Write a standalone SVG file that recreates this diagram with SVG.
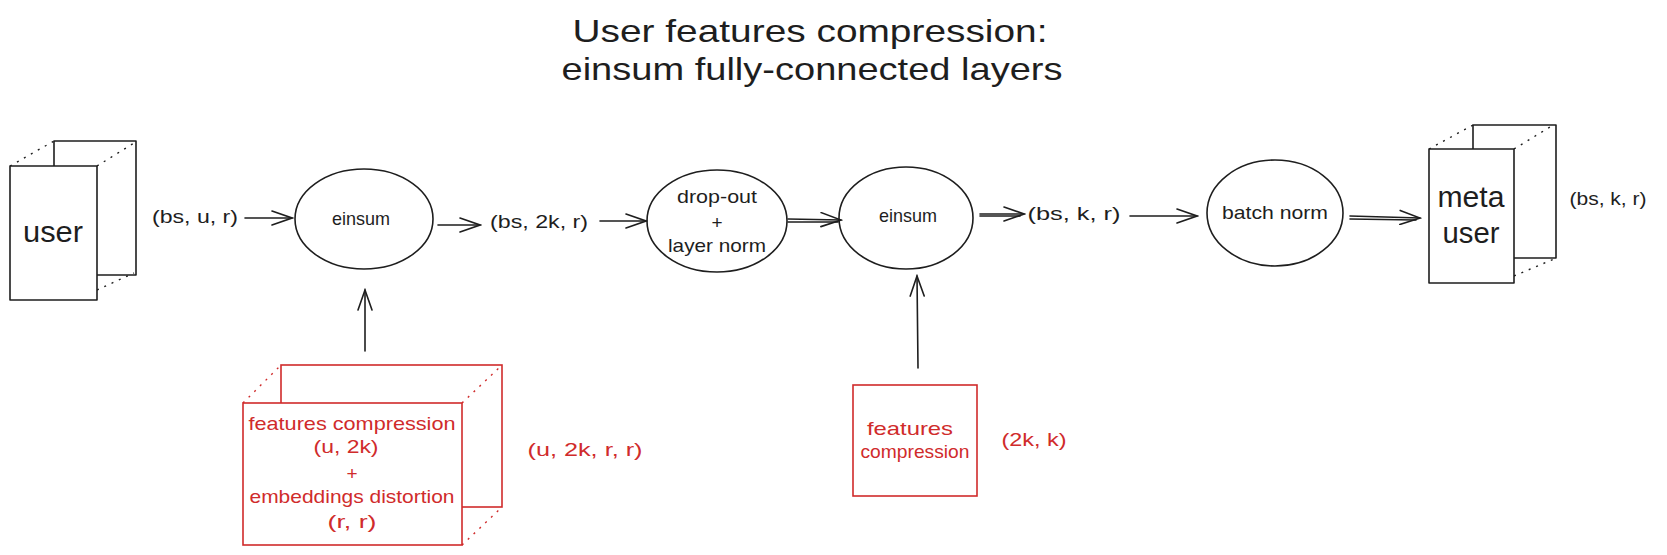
<svg xmlns="http://www.w3.org/2000/svg" width="1667" height="555" viewBox="0 0 1667 555">
<defs>
<style>
text{font-family:"Liberation Sans","Noto Sans",sans-serif;fill:#1e1e1e;text-anchor:middle}
.t{font-size:32px}
.l{font-size:19px}
.b{font-size:29px}
.r{fill:#d02b2b}
.s{fill:none;stroke:#1e1e1e;stroke-width:1.6;stroke-linejoin:round;stroke-linecap:round}
.sr{fill:none;stroke:#d02b2b;stroke-width:1.6}
.d{fill:none;stroke:#1e1e1e;stroke-width:1.4;stroke-dasharray:2 6}
.dr{fill:none;stroke:#d02b2b;stroke-width:1.4;stroke-dasharray:2 6}
.w{fill:#fff}
</style>
<marker id="ah" markerWidth="24" markerHeight="16" viewBox="-22 -8 24 16" refX="0" refY="0" orient="auto" markerUnits="userSpaceOnUse">
<path d="M-20,-7 L0,0 L-20,7" fill="none" stroke="#1e1e1e" stroke-width="1.6" stroke-linecap="round"/>
</marker>
</defs>
<rect width="1667" height="555" fill="#fff"/>
<g id="title">
<text class="t" x="810" y="42" textLength="475" lengthAdjust="spacingAndGlyphs">User features compression:</text>
<text class="t" x="812" y="80" textLength="501" lengthAdjust="spacingAndGlyphs">einsum fully-connected layers</text>
</g>
<g id="connectors">
<line class="s" x1="245" y1="218" x2="292" y2="218" marker-end="url(#ah)"/>
<line class="s" x1="438" y1="225" x2="480" y2="225" marker-end="url(#ah)"/>
<line class="s" x1="600" y1="221" x2="646" y2="221" marker-end="url(#ah)"/>
<line class="s" x1="788" y1="219" x2="841" y2="220" marker-end="url(#ah)"/>
<line class="s" x1="788" y1="222" x2="838" y2="222"/>
<line class="s" x1="980" y1="214" x2="1024" y2="214" marker-end="url(#ah)"/>
<line class="s" x1="980" y1="216" x2="1020" y2="216"/>
<line class="s" x1="1130" y1="216" x2="1197" y2="216" marker-end="url(#ah)"/>
<line class="s" x1="1350" y1="216" x2="1420" y2="218" marker-end="url(#ah)"/>
<line class="s" x1="1350" y1="219" x2="1416" y2="220"/>
<line class="s" x1="365" y1="351" x2="365" y2="290" marker-end="url(#ah)"/>
<line class="s" x1="918" y1="368" x2="917" y2="276" marker-end="url(#ah)"/>
</g>
<g id="user">
<rect class="s w" x="54" y="141" width="82" height="134"/>
<line class="d" x1="10" y1="166" x2="54" y2="141"/>
<line class="d" x1="97" y1="166" x2="134" y2="143"/>
<line class="d" x1="97" y1="290" x2="134" y2="273"/>
<rect class="s w" x="10" y="166" width="87" height="134"/>
<text class="b" x="53" y="242" textLength="60" lengthAdjust="spacingAndGlyphs">user</text>
<text class="l" x="195" y="223" textLength="86" lengthAdjust="spacingAndGlyphs">(bs, u, r)</text>
</g>
<g id="einsum1">
<ellipse class="s" cx="364" cy="219" rx="69" ry="50"/>
<text class="l" x="361" y="225" textLength="58" lengthAdjust="spacingAndGlyphs">einsum</text>
</g>
<g id="label-bs2kr">
<text class="l" x="539" y="228" textLength="98" lengthAdjust="spacingAndGlyphs">(bs, 2k, r)</text>
</g>
<g id="dropout">
<ellipse class="s" cx="717" cy="221" rx="70" ry="51"/>
<text class="l" x="717" y="203" textLength="80" lengthAdjust="spacingAndGlyphs">drop-out</text>
<text class="l" x="717" y="229">+</text>
<text class="l" x="717" y="252" textLength="98" lengthAdjust="spacingAndGlyphs">layer norm</text>
</g>
<g id="einsum2">
<ellipse class="s" cx="906" cy="218" rx="67" ry="51"/>
<text class="l" x="908" y="222" textLength="58" lengthAdjust="spacingAndGlyphs">einsum</text>
</g>
<g id="label-bskr">
<text class="l" x="1074" y="220" textLength="93" lengthAdjust="spacingAndGlyphs">(bs, k, r)</text>
</g>
<g id="batchnorm">
<ellipse class="s" cx="1275" cy="213" rx="68" ry="53"/>
<text class="l" x="1275" y="219" textLength="106" lengthAdjust="spacingAndGlyphs">batch norm</text>
</g>
<g id="metauser">
<rect class="s w" x="1473" y="125" width="83" height="133"/>
<line class="d" x1="1429" y1="149" x2="1473" y2="125"/>
<line class="d" x1="1514" y1="149" x2="1550" y2="127"/>
<line class="d" x1="1514" y1="276" x2="1554" y2="259"/>
<rect class="s w" x="1429" y="149" width="85" height="134"/>
<text class="b" x="1471" y="207" textLength="67" lengthAdjust="spacingAndGlyphs">meta</text>
<text class="b" x="1471" y="243" textLength="57" lengthAdjust="spacingAndGlyphs">user</text>
<text class="l" x="1608" y="205" textLength="77" lengthAdjust="spacingAndGlyphs">(bs, k, r)</text>
</g>
<g id="features1">
<rect class="sr w" x="281" y="365" width="221" height="142"/>
<line class="dr" x1="243" y1="403" x2="281" y2="365"/>
<line class="dr" x1="462" y1="403" x2="500" y2="367"/>
<line class="dr" x1="462" y1="545" x2="500" y2="509"/>
<rect class="sr w" x="243" y="403" width="219" height="142"/>
<text class="l r" x="352" y="430" textLength="207" lengthAdjust="spacingAndGlyphs">features compression</text>
<text class="l r" x="346" y="453" textLength="65" lengthAdjust="spacingAndGlyphs">(u, 2k)</text>
<text class="l r" x="352" y="480">+</text>
<text class="l r" x="352" y="503" textLength="205" lengthAdjust="spacingAndGlyphs">embeddings distortion</text>
<text class="l r" x="352" y="528" textLength="49" lengthAdjust="spacingAndGlyphs">(r, r)</text>
<text class="l r" x="585" y="456" textLength="115" lengthAdjust="spacingAndGlyphs">(u, 2k, r, r)</text>
</g>
<g id="features2">
<rect class="sr" x="853" y="385" width="124" height="111"/>
<text class="l r" x="910" y="435" textLength="86" lengthAdjust="spacingAndGlyphs">features</text>
<text class="l r" x="915" y="458" textLength="109" lengthAdjust="spacingAndGlyphs">compression</text>
<text class="l r" x="1034" y="446" textLength="65" lengthAdjust="spacingAndGlyphs">(2k, k)</text>
</g>
</svg>
